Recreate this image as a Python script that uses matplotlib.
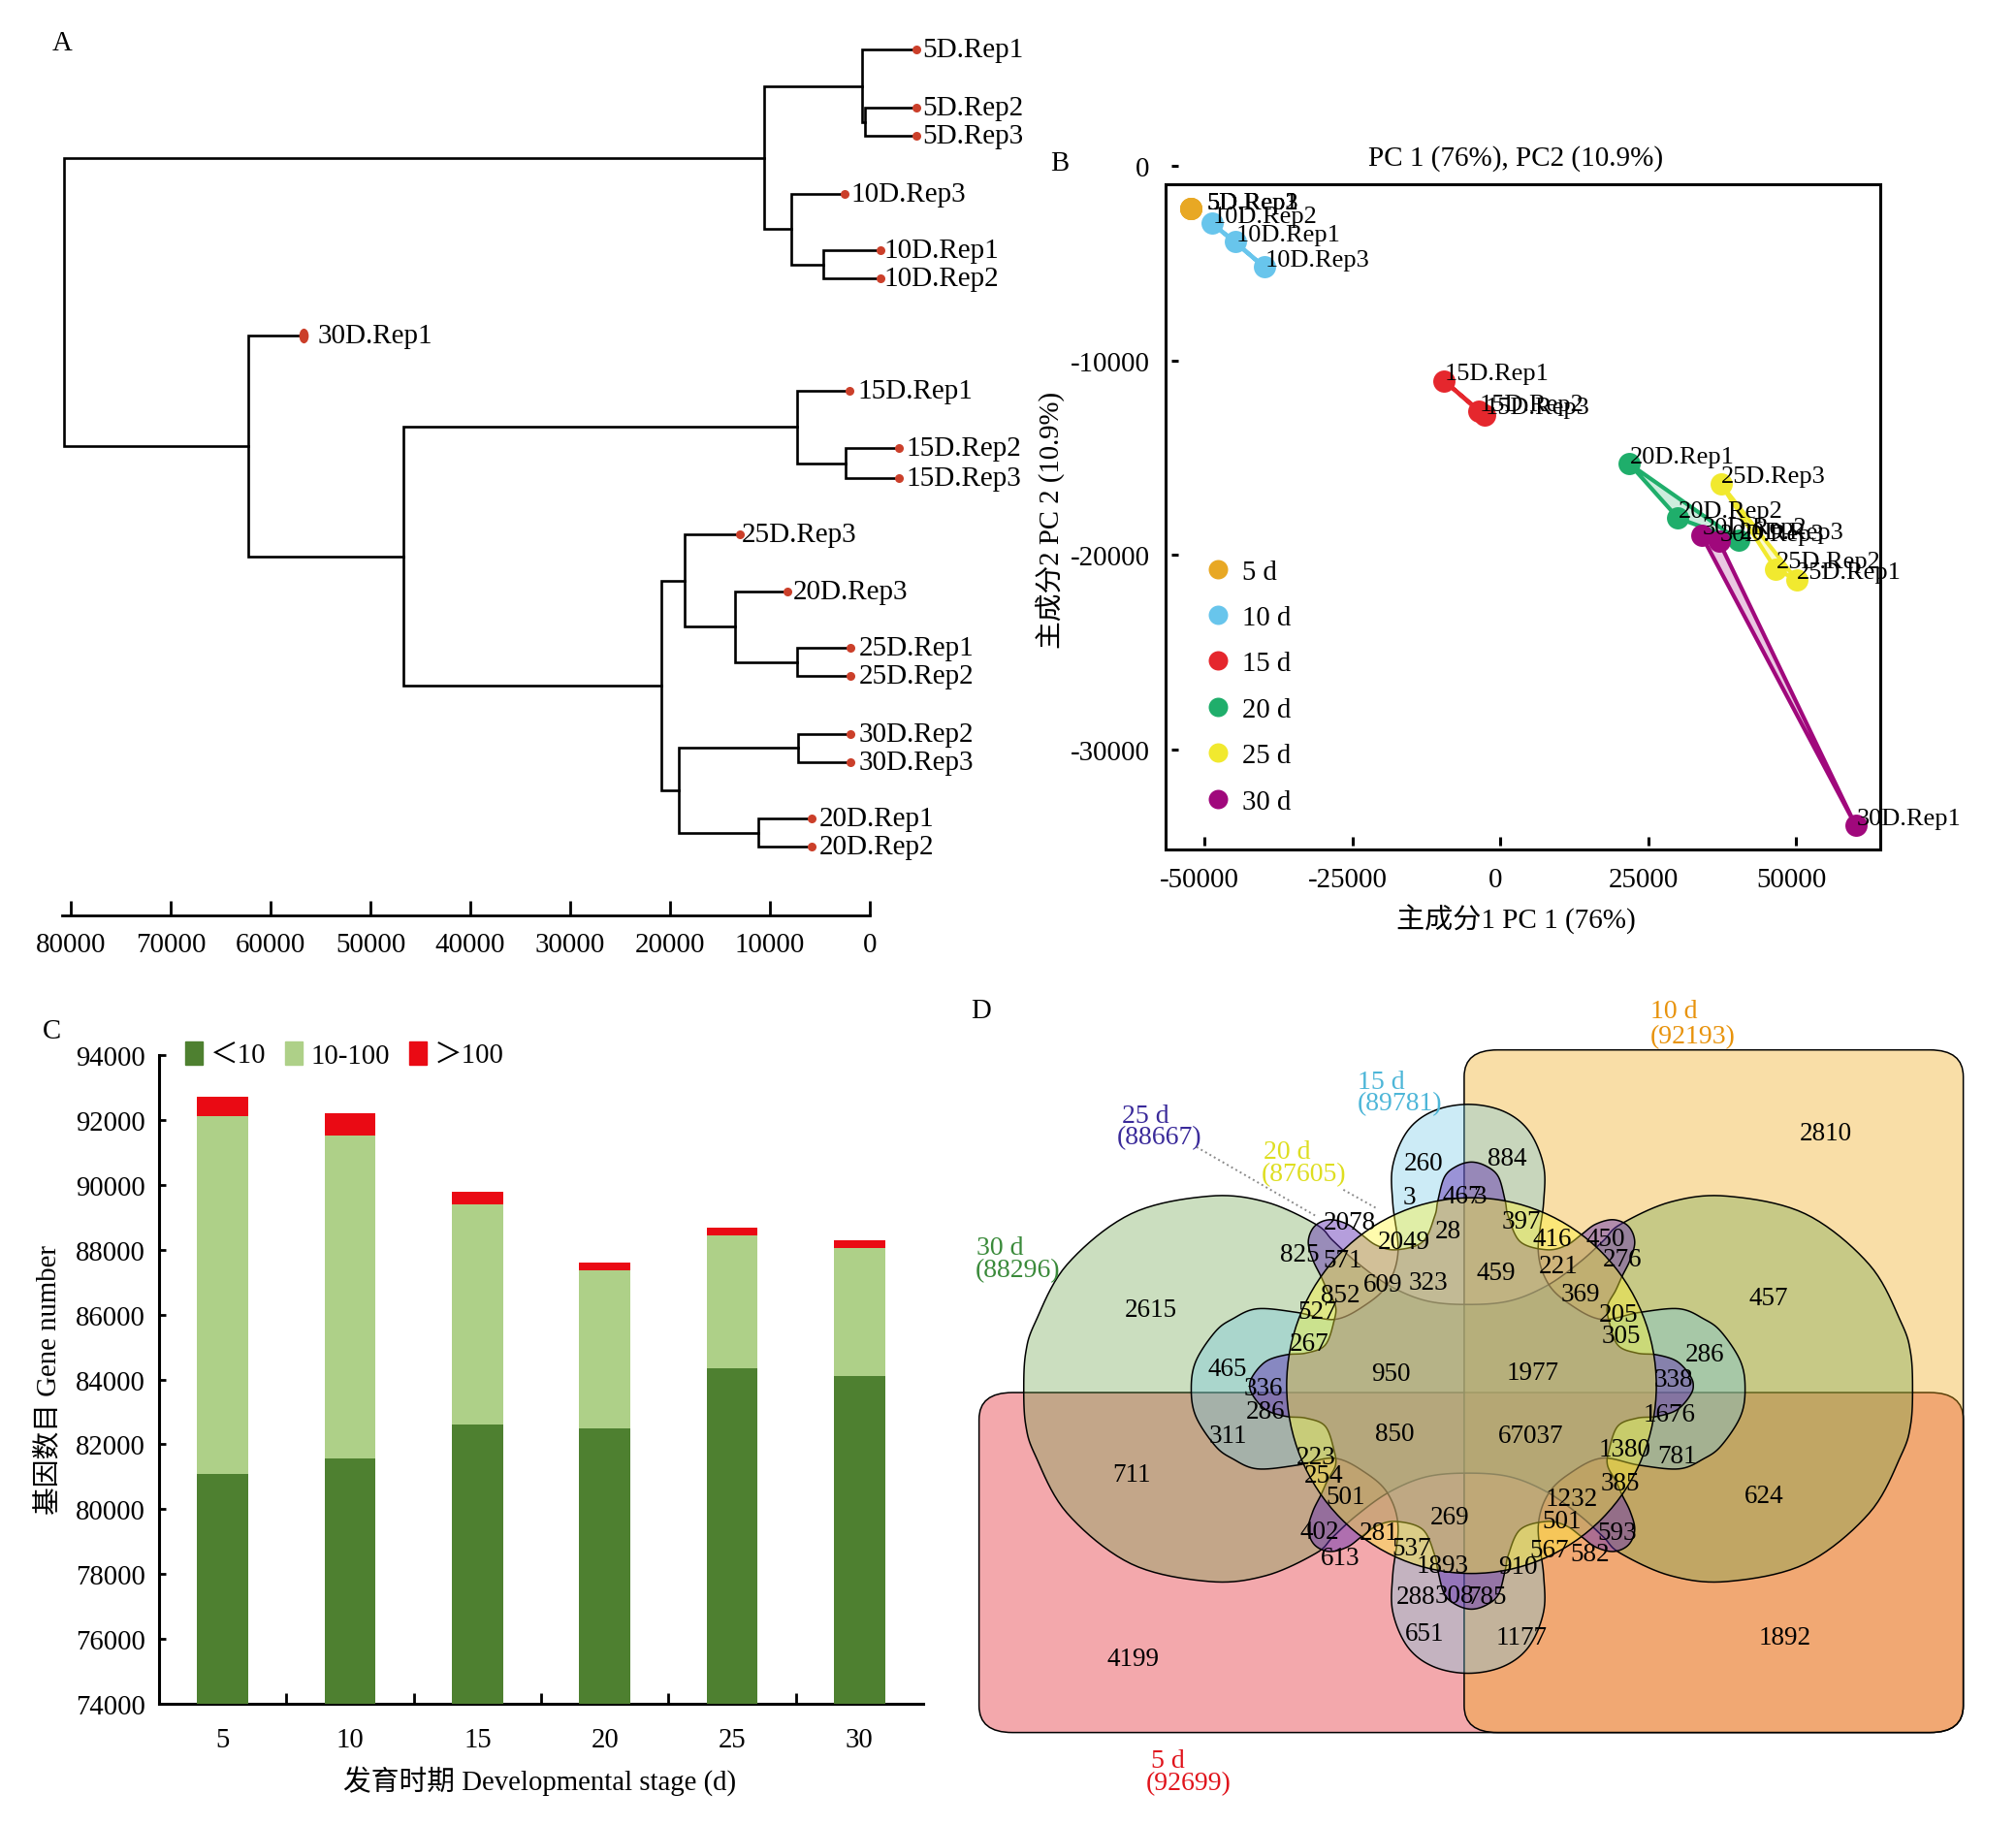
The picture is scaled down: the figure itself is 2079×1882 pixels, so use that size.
import numpy as np
import matplotlib
matplotlib.use('Agg')
import matplotlib.pyplot as plt
from matplotlib.lines import Line2D
from matplotlib.markers import MarkerStyle
from matplotlib.patches import Ellipse, FancyBboxPatch, Patch, Polygon, Rectangle
from matplotlib.transforms import Affine2D, ScaledTranslation

plt.rcParams['font.family'] = ['Liberation Serif', 'Noto Sans CJK SC']
plt.rcParams['axes.unicode_minus'] = False

W, H = 2079, 1883

# A: dendrogram, leaves then merges (linkage style, index >= 18 is an earlier merge)
leaf_names = ['5D.Rep1', '5D.Rep2', '5D.Rep3', '10D.Rep3', '10D.Rep1', '10D.Rep2', '30D.Rep1',
              '15D.Rep1', '15D.Rep2', '15D.Rep3', '25D.Rep3', '20D.Rep3', '25D.Rep1', '25D.Rep2',
              '30D.Rep2', '30D.Rep3', '20D.Rep1', '20D.Rep2']
leaf_dist = [-4630, -4630, -4630, 2572, -1029, -1029, 56713, 2058, -2958, -2958,
             12989, 8230, 1929, 1929, 1929, 1929, 5787, 5787]
leaf_rows = [39.5, 84.5, 106.5, 151.5, 195.5, 217.5, 261.5, 304.5, 349.5, 372.5, 416.5, 460.5, 504.5, 526.5,
             571.5, 593.5, 637.5, 659.5]
leaf_gap = [5, 5, 5, 5, 3, 3, 10.5, 6, 5, 5, 1, 4, 6, 6, 6, 6, 5, 5]
merge_a = [1, 0, 4, 3, 19, 8, 7, 12, 11, 10, 14, 16, 28, 27, 24, 6, 22]
merge_b = [2, 18, 5, 20, 21, 9, 23, 13, 25, 26, 15, 17, 29, 30, 31, 32, 33]
merge_dist = [514, 772, 4630, 7845, 10545, 2443, 7330, 7330, 13503, 18518,
              7202, 11188, 19161, 20833, 46682, 62242, 80632]
dist_ticks = [80000, 70000, 60000, 50000, 40000, 30000, 20000, 10000, 0]

# B: PCA
pca_groups = ['5 d', '10 d', '15 d', '20 d', '25 d', '30 d']
pca_colors = ['#e8a824', '#68c5ec', '#e5272d', '#1fae6b', '#f1e92f', '#a0087c']
pca_x = [[-52400, -52400, -52400], [-44830, -48770, -39930], [-9480, -3620, -2660],
         [21830, 30030, 40250], [50050, 46540, 37270], [60060, 33970, 36950]]
pca_y = [[-2160, -2160, -2160], [-3890, -2946, -5190], [-11050, -12620, -12810],
         [-15320, -18110, -19240], [-21270, -20730, -16350], [-33920, -18970, -19300]]
pca_prefix = ['5D', '10D', '15D', '20D', '25D', '30D']

# C: stacked bars
stages = ['5', '10', '15', '20', '25', '30']
low_tops = [81100, 81550, 82600, 82500, 84350, 84100]
mid_tops = [92116, 91520, 89400, 87350, 88450, 88050]
high_tops = [92700, 92193, 89781, 87605, 88667, 88296]

# D: venn labels
venn_counts = ['2810', '884', '260', '3', '467', '3', '2078', '397', '28', '416', '450', '2049', '825',
               '571', '276', '459', '221', '323', '609', '369', '852', '2615', '457', '527', '205', '305',
               '267', '286', '465', '950', '1977', '338', '336', '1676', '286', '850', '67037', '311',
               '1380', '781', '223', '711', '254', '385', '501', '1232', '624', '269', '501', '593', '402',
               '281', '537', '567', '582', '613', '1893', '910', '288', '308', '785', '651', '1177',
               '1892', '4199']
venn_text_x = [1283, 806, 680, 659, 738, 765, 570, 826, 717, 873, 953, 651, 494,
               559, 978, 788, 882, 687, 619, 915, 556, 271, 1197, 521, 972, 977,
               508, 1101, 386, 631, 844, 1055, 440, 1049, 443, 637, 841, 387,
               982, 1060, 519, 243, 530, 975, 564, 902, 1191, 719, 887, 970, 524,
               614, 662, 869, 930, 556, 709, 822, 668, 727, 775, 682, 827,
               1222, 245]
venn_text_y = [266, 313, 323, 385, 384, 384, 433, 432, 449, 464, 464, 469, 493,
               504, 503, 528, 515, 546, 549, 568, 570, 597, 574, 601, 606, 646,
               661, 681, 707, 717, 714, 728, 744, 792, 788, 829, 833, 833,
               858, 871, 872, 906, 907, 922, 947, 950, 946, 985, 993, 1015, 1012,
               1014, 1043, 1047, 1054, 1062, 1076, 1078, 1134, 1132, 1134, 1203, 1211,
               1211, 1251]
set_names = ['10 d', '(92193)', '15 d', '(89781)', '25 d', '(88667)', '20 d', '(87605)',
             '30 d', '(88296)', '5 d', '(92699)']
set_colors = ['#e8930c', '#e8930c', '#4db6d8', '#4db6d8', '#3a2a9a', '#3a2a9a', '#dede20', '#dede20',
              '#3a8a3a', '#3a8a3a', '#e0141c', '#e0141c']
set_x = [1056, 1084, 617, 644, 263, 284, 475, 500, 46, 72, 297, 328]
set_y = [37, 85, 170, 209, 233, 274, 300, 343, 481, 522, 1441, 1484]

# outlines, one quadrant each (top centre -> right centre), crop coordinates
green_qx = [747, 810, 866, 915, 950, 975, 1050, 1135, 1252, 1348, 1396, 1410, 1413]
green_qy = [590, 583, 554, 510, 470, 440, 398, 387, 420, 515, 624, 680, 748]
blue_qx = [747, 800, 838, 860, 860, 852, 867, 900, 947, 1003, 1063, 1100, 1126, 1155, 1162]
blue_qy = [215, 228, 265, 330, 400, 490, 551, 590, 618, 605, 598, 617, 641, 696, 748]
purple_angle = [0, 4, 7.5, 10.5, 12.4, 19, 29.4, 34.5, 36.5, 38, 41, 45, 49, 52, 54.5, 57, 60, 65, 74.7, 79, 80.6,
                82.7, 85, 88, 90]
purple_r = [1.19, 1.17, 1.12, 1.0, .925, .81, .83, .906, 1.0, 1.09, 1.17, 1.2, 1.17, 1.09, 1.0, .93, .85, .82, .82,
            .91, 1.01, 1.10, 1.15, 1.19, 1.2]


def px_axes(fig, left, top, right, bottom):
    return fig.add_axes([left / W, 1 - bottom / H, (right - left) / W, (bottom - top) / H])


def px_text(fig, x, y, s, **kw):
    kw.setdefault('ha', 'center')
    kw.setdefault('va', 'center')
    kw.setdefault('fontsize', 20.7)
    fig.text(x / W, 1 - (y + 2.5) / H, s, **kw)


def mirror(qx, qy, cx, cy):
    qx, qy = np.array(qx, float), np.array(qy, float)
    x = np.concatenate([qx, qx[-2:0:-1], 2 * cx - qx, 2 * cx - qx[-2:0:-1]])
    y = np.concatenate([qy, 2 * cy - qy[-2:0:-1], 2 * cy - qy, qy[-2:0:-1]])
    return x, y


def smooth_closed(x, y, n=10):
    pts = np.column_stack([x, y])
    out = []
    for i in range(len(pts)):
        p0, p1, p2, p3 = pts[i - 1], pts[i], pts[(i + 1) % len(pts)], pts[(i + 2) % len(pts)]
        for t in np.linspace(0, 1, n, endpoint=False):
            out.append(0.5 * (2 * p1 + (p2 - p0) * t + (2 * p0 - 5 * p1 + 4 * p2 - p3) * t ** 2
                              + (3 * p1 - p0 - 3 * p2 + p3) * t ** 3))
    return np.array(out)


def rgba(r, g, b, a):
    return (r / 255, g / 255, b / 255, a)


fig = plt.figure(figsize=(W / 100, H / 100), dpi=100, facecolor='white')

# ---- A
axa = px_axes(fig, 73, 20, 897, 945)
axa.set_xlim(80000, 0)
axa.set_ylim(712.7, 15)
node_d = list(leaf_dist)
node_y = list(leaf_rows)
for a, b, d in zip(merge_a, merge_b, merge_dist):
    axa.plot([node_d[a], d, d, node_d[b]], [node_y[a], node_y[a], node_y[b], node_y[b]],
             color='black', lw=1.9, clip_on=False, solid_joinstyle='miter')
    node_d.append(d)
    node_y.append((node_y[a] + node_y[b]) / 2)
for name, d, row, gap in zip(leaf_names, leaf_dist, leaf_rows, leaf_gap):
    is_oval = name == '30D.Rep1'
    mk = MarkerStyle('o', transform=Affine2D().scale(0.7, 1.1)) if is_oval else 'o'
    axa.plot([d], [row], marker=mk, ms=10 if is_oval else 6.5, color='#cb3f2a', mew=0, clip_on=False, zorder=3)
    axa.annotate(name, (d, row), xytext=(gap, 0), textcoords='offset points',
                 va='center', fontsize=21, annotation_clip=False)
for side in ['top', 'left', 'right']:
    axa.spines[side].set_visible(False)
axa.spines['bottom'].set_linewidth(2)
axa.spines['bottom'].set_bounds(0, 80900)
axa.patch.set_alpha(0)
axa.set_yticks([])
axa.set_xticks(dist_ticks)
axa.tick_params(axis='x', direction='in', length=11, width=2, pad=12, labelsize=20.8)

# ---- B
axb = px_axes(fig, 1208, 165, 1939, 873)
axb.set_xlim(-55623, 64213)
axb.set_ylim(-34950, 364)
axb.add_patch(Rectangle((-56607, -35150), 120820, 34217, fill=False, ec='black', lw=2.2, clip_on=False))
for name, col, xs, ys, pre in zip(pca_groups, pca_colors, pca_x, pca_y, pca_prefix):
    axb.fill(xs, ys, facecolor=col, alpha=0.22, zorder=2)
    axb.fill(xs, ys, fill=False, edgecolor=col, lw=3, zorder=2)
    axb.plot(xs, ys, ls='none', marker='o', ms=16.5, color=col, mew=0, zorder=3, clip_on=False)
    for k in range(3):
        off = (11.7, 4) if pre == '5D' else (0.5, 5.5)
        axb.annotate(f'{pre}.Rep{k + 1}', (xs[k], ys[k]), xytext=off, textcoords='offset points',
                     va='center', fontsize=19, annotation_clip=False, zorder=4)
for side in axb.spines:
    axb.spines[side].set_visible(False)
axb.patch.set_alpha(0)
axb.set_xticks([-50000, -25000, 0, 25000, 50000])
axb.set_yticks([0, -10000, -20000, -30000])
axb.tick_params(axis='x', direction='in', length=6.5, width=2.2, pad=16, labelsize=20.8)
axb.tick_params(axis='y', direction='in', length=5, width=2.2, pad=16, labelsize=20.8)
# x labels sit a little left of their ticks in the original
shift = ScaledTranslation(-5 / 100, 0, fig.dpi_scale_trans)
for lbl in axb.get_xticklabels():
    lbl.set_transform(lbl.get_transform() + shift)
handles = [Line2D([], [], ls='none', marker='o', ms=14.4, mew=0, color=c) for c in pca_colors]
axb.legend(handles, pca_groups, frameon=False, loc='upper left', bbox_to_anchor=(0.007, 0.454),
           fontsize=20.7, labelspacing=0.74, handletextpad=0.25, handlelength=1.2)
px_text(fig, 1563, 161, 'PC 1 (76%), PC2 (10.9%)', fontsize=21)
px_text(fig, 1563, 946, '主成分1 PC 1 (76%)', fontsize=21)
px_text(fig, 1084, 534, '主成分2 PC 2 (10.9%)', rotation=90)

# ---- C
axc = px_axes(fig, 164, 1089, 952, 1758)
pos = np.arange(len(stages))
axc.bar(pos, high_tops, width=0.4, color='#ea0a14', zorder=1, label='＞100')
axc.bar(pos, mid_tops, width=0.4, color='#aed088', zorder=2, label='10-100')
axc.bar(pos, low_tops, width=0.4, color='#4e8030', zorder=3, label='＜10')
axc.set_xlim(-0.5, 5.5)
axc.set_ylim(74000, 94000)
axc.set_yticks(np.arange(74000, 94001, 2000))
axc.set_xticks(pos)
axc.set_xticklabels(stages)
axc.set_xticks(pos[:-1] + 0.5, minor=True)
axc.tick_params(axis='x', which='major', length=0, pad=17, labelsize=20.7)
axc.tick_params(axis='x', which='minor', direction='in', length=8, width=2)
axc.tick_params(axis='y', direction='in', length=5, width=2, pad=10, labelsize=20.7)
for side in ['top', 'right']:
    axc.spines[side].set_visible(False)
for side in ['left', 'bottom']:
    axc.spines[side].set_linewidth(2.2)
axc.patch.set_alpha(0)
leg_handles = [Patch(color='#4e8030'), Patch(color='#aed088'), Patch(color='#ea0a14')]
axc.legend(leg_handles, ['＜10', '10-100', '＞100'], frameon=False, ncol=3, loc='center left',
           bbox_to_anchor=(0.034, 1.0), fontsize=20.7, handlelength=0.63, handleheight=0.9,
           handletextpad=0.27, columnspacing=0.7, borderpad=0, borderaxespad=0)
px_text(fig, 557, 1835, '发育时期 Developmental stage (d)')
px_text(fig, 50, 1421, '基因数目 Gene number', rotation=90)

# ---- D (axes in crop coordinates)
axd = px_axes(fig, 1000, 1021.5, 2079, 1884.5)
axd.set_xlim(0, 1568)
axd.set_ylim(1568, 0)
axd.axis('off')
edge = dict(ec='black', lw=1.1)
axd.add_patch(FancyBboxPatch((14, 755), 1475, 637, boxstyle='round,pad=0,rounding_size=50',
                             fc=rgba(222, 6, 17, 0.35), **edge))
axd.add_patch(FancyBboxPatch((741, 113), 748, 1279, boxstyle='round,pad=0,rounding_size=50',
                             fc=rgba(240, 170, 24, 0.38), **edge))
gx, gy = mirror(green_qx, green_qy, 747, 748)
axd.add_patch(Polygon(smooth_closed(gx, gy), fc=rgba(106, 163, 74, 0.35), **edge))
bx, by = mirror(blue_qx, blue_qy, 747, 748)
axd.add_patch(Polygon(smooth_closed(bx, by), fc=rgba(110, 200, 230, 0.35), **edge))
ang = np.radians(purple_angle)
px = 752 + 277 * np.array(purple_r) * np.sin(ang)
py = 742 - 352 * np.array(purple_r) * np.cos(ang)
ux, uy = mirror(px, py, 752, 742)
axd.add_patch(Polygon(smooth_closed(ux, uy), fc=rgba(95, 45, 180, 0.46), **edge))
axd.add_patch(Ellipse((752, 742), 554, 704, fc=rgba(255, 245, 50, 0.4), **edge))
axd.plot([340, 520], [295, 425], color='#8a8a8a', lw=1.4, ls=':')
axd.plot([560, 610], [375, 410], color='#8a8a8a', lw=1.4, ls=':')
for s, x, y in zip(venn_counts, venn_text_x, venn_text_y):
    axd.text(x, y + 3, s, ha='center', va='center', fontsize=19.5, color='black', zorder=5)
for s, c, x, y in zip(set_names, set_colors, set_x, set_y):
    axd.text(x, y + 3, s, ha='center', va='center', fontsize=20, color=c, zorder=5)

px_text(fig, 64, 42, 'A')
px_text(fig, 1093, 166, 'B')
px_text(fig, 53, 1062, 'C')
px_text(fig, 1012, 1040, 'D')

fig.savefig('out.png', dpi=100)
